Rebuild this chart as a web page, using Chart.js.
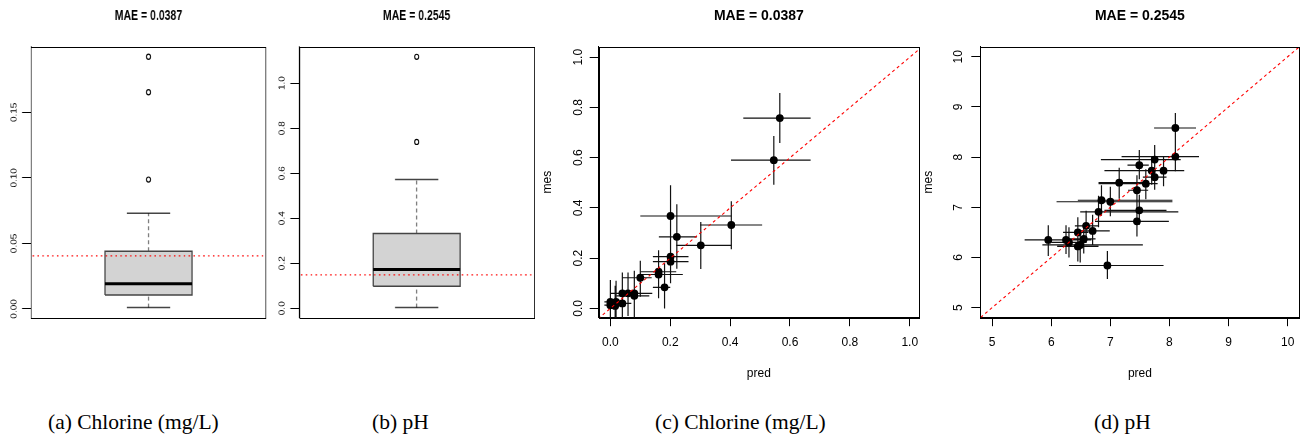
<!DOCTYPE html>
<html>
<head>
<meta charset="utf-8">
<script src="https://cdn.jsdelivr.net/npm/chart.js@4/dist/chart.umd.min.js"></script>
<style>
  body { margin: 0; background: #fff; width: 1304px; height: 441px; position: relative; overflow: hidden; }
  canvas { position: absolute; top: 0; }
  .squeeze { transform-origin: 0 0; transform: scaleX(0.75); }
  .cap { position: absolute; top: 412px; font-family: "Liberation Serif", "Times New Roman", serif; font-size: 21.5px; line-height: 1; white-space: nowrap; color: #000; }
</style>
</head>
<body>
<canvas id="boxCl" class="squeeze" width="367" height="330" style="left:0px"></canvas>
<canvas id="boxPh" class="squeeze" width="368" height="330" style="left:268px"></canvas>
<canvas id="scatCl" width="390" height="385" style="left:540px"></canvas>
<canvas id="scatPh" width="389" height="385" style="left:915px"></canvas>
<div class="cap" style="left:48px">(a) Chlorine (mg/L)</div>
<div class="cap" style="left:372px">(b) pH</div>
<div class="cap" style="left:655px">(c) Chlorine (mg/L)</div>
<div class="cap" style="left:1094px">(d) pH</div>
<script>
// ----------- DATA -----------
const titles = ["MAE = 0.0387", "MAE = 0.2545"];

// boxplots: [lower whisker, Q1, median, Q3, upper whisker]
const clBoxStats = [0.001, 0.0107, 0.0193, 0.044, 0.073];
const clOutliers = [0.0987, 0.1653, 0.1924];
const clRefLine = 0.0405;
const clBoxTicks = [0, 0.05, 0.10, 0.15];

const phBoxStats = [0.003, 0.098, 0.172, 0.332, 0.572];
const phOutliers = [0.739, 1.117];
const phRefLine = 0.148;
const phBoxTicks = [0, 0.2, 0.4, 0.6, 0.8, 1.0];

// chlorine: predicted vs measured, with ranges
const clPred   = [0.566, 0.546, 0.404, 0.302, 0.201, 0.222, 0.201, 0.201, 0.161, 0.161, 0.181, 0.100, 0.080, 0.080, 0.059, 0.040, 0.040, 0.019, 0.000, 0.000, 0.016];
const clPredLo = [0.444, 0.403, 0.300, 0.220, 0.100, 0.162, 0.142, 0.142, 0.100, 0.103, 0.142, 0.040, 0.000, 0.020, 0.020, 0.000, 0.010, 0.000, -0.020, -0.020, 0.000];
const clPredHi = [0.669, 0.669, 0.507, 0.404, 0.404, 0.289, 0.261, 0.261, 0.220, 0.242, 0.200, 0.138, 0.140, 0.130, 0.100, 0.080, 0.070, 0.050, 0.030, 0.040, 0.050];
const clMes    = [0.758, 0.590, 0.332, 0.251, 0.368, 0.285, 0.206, 0.186, 0.146, 0.135, 0.084, 0.122, 0.060, 0.050, 0.060, 0.060, 0.020, 0.026, 0.026, 0.013, 0.010];
const clMesLo  = [0.659, 0.492, 0.236, 0.157, 0.208, 0.158, 0.100, 0.100, 0.040, 0.050, 0.000, 0.046, -0.030, -0.040, -0.030, -0.030, -0.050, -0.050, -0.060, -0.060, -0.050];
const clMesHi  = [0.858, 0.686, 0.427, 0.344, 0.490, 0.415, 0.310, 0.280, 0.232, 0.220, 0.180, 0.190, 0.150, 0.140, 0.143, 0.143, 0.100, 0.110, 0.113, 0.100, 0.090];
const clTicks = [0, 0.2, 0.4, 0.6, 0.8, 1.0];

// pH: predicted vs measured, with ranges
const phPred   = [8.10, 8.10, 7.75, 7.49, 7.90, 7.70, 7.75, 7.60, 7.15, 7.45, 6.85, 7.00, 6.80, 7.49, 7.45, 6.59, 6.70, 6.55, 6.49, 6.45, 6.45, 6.30, 6.25, 5.95, 6.95];
const phPredLo = [7.74, 7.19, 6.84, 7.29, 6.90, 7.45, 7.55, 6.80, 6.80, 7.30, 6.45, 6.09, 6.49, 6.90, 6.74, 6.40, 6.41, 6.30, 5.85, 6.20, 6.10, 6.00, 5.84, 5.55, 6.30];
const phPredHi = [8.45, 8.50, 8.19, 7.65, 8.25, 7.95, 7.95, 7.80, 7.64, 7.64, 8.05, 8.05, 8.15, 7.95, 7.99, 6.80, 6.99, 6.75, 7.55, 6.63, 6.80, 6.60, 6.68, 6.45, 7.90];
const phMes    = [8.58, 8.01, 7.95, 7.84, 7.73, 7.73, 7.60, 7.47, 7.49, 7.34, 7.14, 7.11, 6.91, 6.94, 6.72, 6.63, 6.53, 6.37, 6.25, 6.50, 6.22, 6.30, 6.35, 6.35, 5.84];
const phMesLo  = [8.29, 7.72, 7.66, 7.56, 7.42, 7.45, 7.35, 7.16, 7.17, 7.03, 6.83, 6.82, 6.60, 6.65, 6.42, 6.33, 6.25, 6.08, 5.90, 6.20, 5.92, 6.00, 6.07, 6.03, 5.57];
const phMesHi  = [8.88, 8.30, 8.24, 8.14, 8.02, 8.00, 7.85, 7.76, 7.79, 7.64, 7.44, 7.41, 7.23, 7.25, 7.03, 6.93, 6.85, 6.68, 6.50, 6.80, 6.52, 6.60, 6.64, 6.64, 6.13];
const phTicks = [5, 6, 7, 8, 9, 10];

Chart.defaults.font.family = '"Liberation Sans", Arial, sans-serif';
Chart.defaults.color = "#000";

// R-like frame, rotated y tick labels and plot title
const rFrame = {
  id: "rFrame",
  afterDraw(chart, args, opts) {
    const { ctx, chartArea: a, scales: { y } } = chart;
    ctx.save();
    ctx.strokeStyle = "#000";
    ctx.lineWidth = 1;
    ctx.strokeRect(Math.round(a.left) + 0.5, Math.round(a.top) + 0.5, Math.round(a.right - a.left), Math.round(a.bottom - a.top));
    ctx.fillStyle = "#000";
    ctx.textAlign = "center";
    ctx.textBaseline = "alphabetic";
    ctx.font = opts.tickFont;
    y.ticks.forEach(t => {
      ctx.save();
      ctx.translate(a.left - opts.gap, y.getPixelForValue(t.value));
      ctx.rotate(-Math.PI / 2);
      ctx.fillText(t.label, 0, 0);
      ctx.restore();
    });
    ctx.font = "bold 14px 'Liberation Sans', Arial, sans-serif";
    ctx.fillText(opts.title, (a.left + a.right) / 2, 20.3);
    ctx.restore();
  }
};

function seg(points, extra) {
  return Object.assign({
    type: "scatter", showLine: true, data: points, pointRadius: 0,
    borderColor: "#000", borderWidth: 1, fill: false
  }, extra);
}

function boxDatasets(stats, outliers, ref) {
  const [lo, q1, med, q3, hi] = stats;
  return [
    seg([{ x: 0.4, y: ref }, { x: 1.6, y: ref }], { borderColor: "red", borderDash: [2, 4.5], borderWidth: 1.3 }),
    {
      type: "scatter", data: outliers.map(v => ({ x: 1, y: v })), pointRadius: 2.6,
      pointBorderWidth: 1.2, pointBackgroundColor: "rgba(0,0,0,0)", pointBorderColor: "#000"
    },
    seg([{ x: 0.8, y: med }, { x: 1.2, y: med }], { borderWidth: 3 }),
    seg([{ x: 0.8, y: q1 }, { x: 1.2, y: q1 }, { x: 1.2, y: q3 }, { x: 0.8, y: q3 }, { x: 0.8, y: q1 }], { borderColor: "#444", borderWidth: 1.5 }),
    seg([{ x: 0.8, y: q3 }, { x: 1.2, y: q3 }], { borderColor: "rgba(0,0,0,0)", fill: { value: q1 }, backgroundColor: "#d3d3d3" }),
    seg([{ x: 1, y: q3 }, { x: 1, y: hi }], { borderDash: [4, 3] }),
    seg([{ x: 1, y: lo }, { x: 1, y: q1 }], { borderDash: [4, 3] }),
    seg([{ x: 0.9, y: hi }, { x: 1.1, y: hi }], { borderColor: "#444", borderWidth: 1.5 }),
    seg([{ x: 0.9, y: lo }, { x: 1.1, y: lo }], { borderColor: "#444", borderWidth: 1.5 })
  ];
}

function boxChart(id, stats, outliers, ref, ticks, yMin, yMax, digits, title, leftW, padRight) {
  new Chart(document.getElementById(id), {
    type: "scatter",
    data: { datasets: boxDatasets(stats, outliers, ref) },
    options: {
      responsive: false, animation: false, devicePixelRatio: 1,
      layout: { padding: { left: 0, right: padRight, top: 46.7, bottom: 12.3 } },
      plugins: {
        legend: { display: false }, tooltip: { enabled: false },
        rFrame: { gap: 19.6, tickFont: "10px 'Liberation Sans', Arial, sans-serif", title: title }
      },
      scales: {
        x: { type: "linear", display: false, min: 0.46, max: 1.54 },
        y: {
          min: yMin, max: yMax,
          afterFit: s => { s.width = leftW; },
          afterBuildTicks: s => { s.ticks = ticks.map(v => ({ value: v })); },
          ticks: { display: false, callback: v => v.toFixed(digits) },
          grid: { drawOnChartArea: false, tickLength: 12, color: "#000" },
          border: { color: "#000" }
        }
      }
    },
    plugins: [rFrame]
  });
}

function bars(xs, ys, keyVar) {
  const out = [];
  xs.forEach((v, i) => {
    if (keyVar === "x") out.push({ x: v[0], y: ys[i] }, { x: v[1], y: ys[i] }, { x: null, y: null });
    else out.push({ x: ys[i], y: v[0] }, { x: ys[i], y: v[1] }, { x: null, y: null });
  });
  return out;
}

function scatterChart(id, pred, predLo, predHi, mes, mesLo, mesHi, ticks, xr, yr, digits, title, leftW, padRight, gap) {
  const hRange = pred.map((v, i) => [predLo[i], predHi[i]]);
  const vRange = mes.map((v, i) => [mesLo[i], mesHi[i]]);
  new Chart(document.getElementById(id), {
    type: "scatter",
    data: {
      datasets: [
        seg([{ x: xr[0] - 1, y: xr[0] - 1 }, { x: xr[1] + 1, y: xr[1] + 1 }], { borderColor: "red", borderDash: [3, 3], borderWidth: 1.1 }),
        { data: pred.map((v, i) => ({ x: v, y: mes[i] })), pointRadius: 3.9, pointBackgroundColor: "#000", pointBorderWidth: 0 },
        seg(bars(vRange, pred, "y"), { borderColor: "#111", borderWidth: 1.2, spanGaps: false }),
        seg(bars(hRange, mes, "x"), { borderColor: "#111", borderWidth: 1.2, spanGaps: false })
      ]
    },
    options: {
      responsive: false, animation: false, devicePixelRatio: 1,
      layout: { padding: { left: 0, right: padRight, top: 46.7, bottom: 0 } },
      plugins: {
        legend: { display: false }, tooltip: { enabled: false },
        rFrame: { gap: gap, tickFont: "12px 'Liberation Sans', Arial, sans-serif", title: title }
      },
      scales: {
        x: {
          type: "linear", min: xr[0], max: xr[1],
          afterFit: s => { s.height = 67.3; },
          afterBuildTicks: s => { s.ticks = ticks.map(v => ({ value: v })); },
          ticks: { autoSkip: false, maxRotation: 0, padding: 9.5, font: { size: 12 }, callback: v => v.toFixed(digits) },
          grid: { drawOnChartArea: false, tickLength: 8.5, color: "#000" },
          border: { color: "#000" },
          title: { display: true, text: "pred", font: { size: 12 }, padding: { top: 0, bottom: 4.3 } }
        },
        y: {
          min: yr[0], max: yr[1],
          afterFit: s => { s.width = leftW; },
          afterBuildTicks: s => { s.ticks = ticks.map(v => ({ value: v })); },
          ticks: { display: false, callback: v => v.toFixed(digits) },
          grid: { drawOnChartArea: false, tickLength: 9, color: "#000" },
          border: { color: "#000" },
          title: { display: true, text: "mes", font: { size: 12 }, padding: { top: leftW - 58.4, bottom: 0 } }
        }
      }
    },
    plugins: [rFrame]
  });
}

boxChart("boxCl", clBoxStats, clOutliers, clRefLine, clBoxTicks, -0.0067, 0.2001, 2, titles[0], 41.33, 12.33);
boxChart("boxPh", phBoxStats, phOutliers, phRefLine, phBoxTicks, -0.042, 1.162, 1, titles[1], 41.73, 13.33);
scatterChart("scatCl", clPred, clPredLo, clPredHi, clMes, clMesLo, clMesHi, clTicks, [-0.039, 1.031], [-0.037, 1.042], 1, titles[0], 58.7, 11, 16.9);
scatterChart("scatPh", phPred, phPredLo, phPredHi, phMes, phMesLo, phMesHi, phTicks, [4.8, 10.2], [4.8, 10.2], 0, titles[1], 65.3, 1.3, 18);
</script>
</body>
</html>
